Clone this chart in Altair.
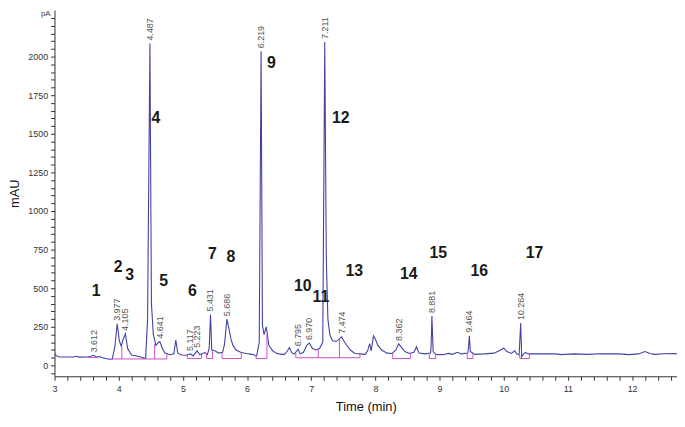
import altair as alt
import pandas as pd

# ---- chromatogram trace (time in min, signal in mAU) ----
time = [3.00, 3.03, 3.08, 3.20, 3.30, 3.34, 3.38, 3.50, 3.55, 3.612, 3.65, 3.70, 3.75,
        3.80, 3.85, 3.90, 3.94, 3.977, 4.01, 4.04, 4.07, 4.105, 4.14, 4.20, 4.30, 4.38,
        4.42, 4.45, 4.487, 4.51, 4.54, 4.58, 4.62, 4.641, 4.68, 4.72, 4.80, 4.86, 4.89,
        4.92, 4.98, 5.05, 5.117, 5.16, 5.223, 5.26, 5.30, 5.34, 5.38, 5.41, 5.431, 5.45,
        5.50, 5.56, 5.62, 5.65, 5.686, 5.72, 5.75, 5.78, 5.83, 5.90, 5.98, 6.08, 6.15,
        6.19, 6.219, 6.24, 6.265, 6.30, 6.34, 6.40, 6.45, 6.50, 6.58, 6.63, 6.66, 6.70,
        6.74, 6.795, 6.83, 6.88, 6.93, 6.970, 7.02, 7.08, 7.13, 7.18, 7.211, 7.235, 7.26,
        7.29, 7.33, 7.39, 7.474, 7.52, 7.61, 7.68, 7.76, 7.84, 7.88, 7.91, 7.935, 7.97,
        8.00, 8.04, 8.10, 8.18, 8.26, 8.32, 8.362, 8.40, 8.46, 8.53, 8.60, 8.64, 8.68,
        8.78, 8.86, 8.868, 8.881, 8.90, 8.94, 9.05, 9.14, 9.20, 9.28, 9.34, 9.44, 9.452,
        9.464, 9.48, 9.55, 9.70, 9.85, 9.95, 10.00, 10.05, 10.12, 10.17, 10.20, 10.24,
        10.264, 10.28, 10.31, 10.34, 10.38, 10.60, 10.80, 10.90, 10.95, 11.10, 11.30,
        11.50, 11.80, 11.95, 12.10, 12.20, 12.28, 12.35, 12.50, 12.66, 12.75]
signal = [78, 62, 55, 55, 55, 60, 54, 55, 58, 66, 55, 58, 50,
          45, 40, 42, 120, 270, 160, 125, 170, 205, 110, 68, 60, 50,
          45, 300, 2085, 400, 200, 130, 150, 155, 110, 80, 70, 75, 165,
          80, 68, 66, 75, 62, 95, 70, 75, 85, 70, 110, 330, 100,
          95, 80, 85, 140, 300, 235, 170, 130, 100, 85, 78, 72, 62,
          150, 2035, 260, 200, 250, 130, 95, 80, 75, 70, 95, 115, 80,
          75, 105, 75, 85, 130, 145, 110, 100, 110, 150, 2095, 700, 300,
          200, 160, 155, 186, 150, 100, 78, 75, 72, 95, 141, 95, 192,
          170, 130, 100, 80, 78, 100, 140, 120, 90, 78, 85, 120, 80,
          75, 80, 120, 320, 90, 72, 70, 78, 72, 85, 75, 80, 120,
          192, 90, 72, 75, 80, 100, 112, 90, 78, 95, 75, 70,
          275, 55, 75, 85, 75, 75, 75, 70, 72, 75, 72,
          76, 75, 70, 75, 90, 78, 72, 76, 78, 72]

# ---- retention-time labels ----
rt_times = [3.612, 3.977, 4.105, 4.487, 4.641, 5.117, 5.223, 5.431, 5.686, 6.219,
            6.795, 6.970, 7.211, 7.474, 8.362, 8.881, 9.464, 10.264]
rt_values = [66, 270, 205, 2085, 155, 75, 95, 330, 300, 2035,
             105, 145, 2095, 186, 140, 320, 192, 275]
rt_text = ["3.612", "3.977", "4.105", "4.487", "4.641", "5.117", "5.223", "5.431", "5.686",
           "6.219", "6.795", "6.970", "7.211", "7.474", "8.362", "8.881", "9.464", "10.264"]

# ---- peak numbers ----
pk_num = [str(i) for i in range(1, 18)]
pk_t = [3.65, 3.99, 4.17, 4.58, 4.70, 5.15, 5.46, 5.75, 6.38, 6.87, 7.15, 7.46, 7.67,
        8.52, 8.98, 9.62, 10.48]
pk_v = [480, 635, 585, 1600, 545, 480, 720, 700, 1955, 513, 442, 1600, 610,
        590, 730, 610, 730]

# ---- integration baselines ----
seg_start = [3.52, 3.87, 5.07, 5.37, 5.61, 6.14, 6.76, 8.27, 8.84, 9.43, 10.25]
seg_end = [3.68, 4.75, 5.29, 5.46, 5.91, 6.31, 7.76, 8.55, 8.94, 9.52, 10.40]
seg_v = [52, 42, 45, 45, 45, 45, 50, 45, 45, 45, 45]
drop_t = [3.52, 3.68, 3.87, 4.05, 4.38, 4.56, 4.75, 5.07, 5.29, 5.37, 5.46, 5.61, 5.91,
          6.14, 6.31, 6.76, 7.11, 7.44, 7.76, 8.27, 8.55, 8.84, 8.94, 9.43, 9.52,
          10.25, 10.40]
drop_lo = [52, 52, 42, 42, 42, 42, 42, 45, 45, 45, 45, 45, 45,
           45, 45, 50, 50, 50, 50, 45, 45, 45, 45, 45, 45, 45, 45]
drop_hi = [58, 50, 42, 120, 48, 140, 75, 66, 70, 70, 95, 85, 84,
           64, 200, 75, 100, 175, 75, 78, 78, 80, 72, 80, 80, 70, 80]

# ---- axis ticks (major ones are labelled) ----
y_ticks = list(range(-50, 2300, 50))
x_ticks = [round(3 + 0.2 * i, 1) for i in range(0, 49)]

W, H = 629, 370
XDOM = [3, 12.7]
YDOM = [-70, 2301]
FONT = "Liberation Sans"

xs = alt.Scale(domain=XDOM, nice=False, zero=False)
ys = alt.Scale(domain=YDOM, nice=False, zero=False)
xax = alt.Axis(values=x_ticks, title="Time (min)",
               labelExpr="abs(datum.value - round(datum.value)) < 0.001 ? format(datum.value, 'd') : ''",
               labelFontSize=9, labelOverlap=False, labelFlush=False,
               tickSize=4, labelPadding=4, titleFontSize=13, titleFontWeight="normal",
               titlePadding=8, grid=False, domainColor="#333", tickColor="#333",
               labelColor="#333", titleColor="#111")
yax = alt.Axis(values=y_ticks, title="mAU",
               labelExpr="(datum.value % 250 == 0 && datum.value >= 0 && datum.value <= 2000) ? format(datum.value, 'd') : ''",
               labelFontSize=9, labelOverlap=False, labelFlush=False,
               tickSize=4, labelPadding=3, titleFontSize=13, titleFontWeight="normal",
               titlePadding=6, grid=False, domainColor="#333", tickColor="#333",
               labelColor="#333", titleColor="#111")

trace_df = pd.DataFrame({"t": time, "v": signal})
rt_df = pd.DataFrame({"t": rt_times, "v": rt_values, "label": rt_text})
pk_df = pd.DataFrame({"t": pk_t, "v": pk_v, "label": pk_num})
seg_df = pd.DataFrame({"t": seg_start, "t2": seg_end, "v": seg_v})
drop_df = pd.DataFrame({"t": drop_t, "v": drop_lo, "v2": drop_hi})

X = alt.X("t:Q", scale=xs, axis=xax)
Y = alt.Y("v:Q", scale=ys, axis=yax)

trace = alt.Chart(trace_df).mark_line(color="#4242a2", strokeWidth=1.1, clip=True).encode(
    x=X, y=Y)

segs = alt.Chart(seg_df).mark_rule(color="#cf4fc6", strokeWidth=1).encode(
    x=X, x2="t2:Q", y=Y)
drops = alt.Chart(drop_df).mark_rule(color="#cf4fc6", strokeWidth=1).encode(
    x=X, y=Y, y2="v2:Q")

rt_lab = alt.Chart(rt_df).mark_text(angle=270, align="left", baseline="middle", dx=3,
                                    fontSize=9, font=FONT, color="#555555").encode(
    x=X, y=Y, text="label:N")

pk_lab = alt.Chart(pk_df).mark_text(fontSize=16, font="Liberation Sans Narrow, Liberation Sans",
                                    fontWeight="bold", color="#1a1a1a",
                                    baseline="middle", align="center").encode(
    x=X, y=Y, text="label:N")

pa = alt.Chart(pd.DataFrame({"s": ["pA"]})).mark_text(
    fontSize=8, font=FONT, color="#444", align="right", baseline="top").encode(
    x=alt.value(-4), y=alt.value(0), text="s:N")

chart = alt.layer(trace, segs, drops, rt_lab, pk_lab, pa).properties(
    width=W, height=H, padding=0
).configure_view(stroke=None).configure_axis(labelFont=FONT, titleFont=FONT)

chart.save("out.html", embed_options={"renderer": "svg", "actions": False})
